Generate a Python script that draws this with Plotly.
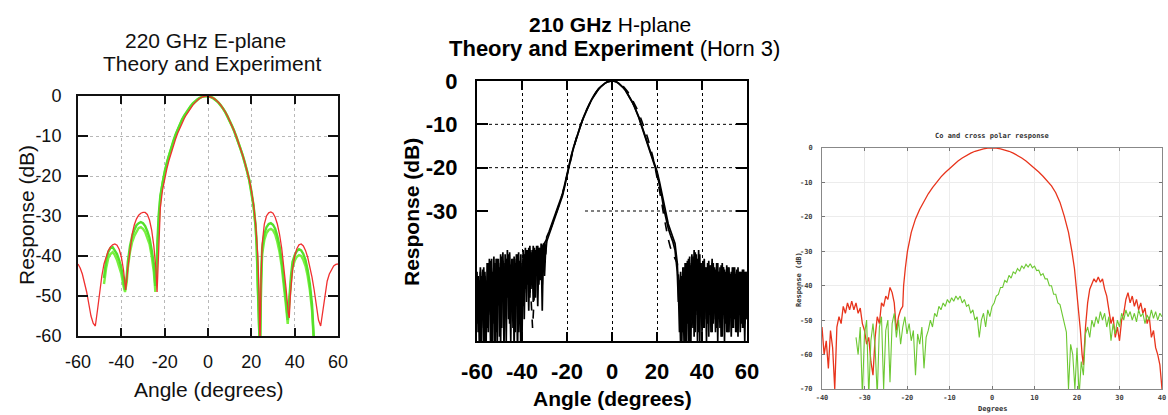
import plotly.graph_objects as go

# ---------------- Panel 1: 220 GHz E-plane (theory red, experiment green) ----------------
e_theory_angle = [
    -60, -59, -58, -57, -56, -55, -54, -53, -52, -51,
    -50, -49, -48, -47, -46, -45, -44, -43, -42, -41,
    -40, -39, -38, -37, -36, -35, -34, -33, -32, -31,
    -30, -29, -28, -27, -26, -25, -24, -23.5, -23, -22.5,
    -22, -21, -20, -19, -18, -17, -16, -15, -14, -13,
    -12, -11, -10, -9, -8, -7, -6, -5, -4, -3,
    -2, -1, 0, 1, 2, 3, 4, 5, 6, 7,
    8, 9, 10, 11, 12, 13, 14, 15, 16, 17,
    18, 19, 20, 21, 22, 23, 23.5, 24, 24.5, 25,
    26, 27, 28, 29, 30, 31, 32, 33, 34, 35,
    36, 37, 37.5, 38, 39, 40, 41, 42, 43, 44,
    45, 46, 47, 48, 49, 50, 51, 52, 53, 54,
    55, 56, 57, 58, 59, 60]
e_theory_db = [
    -42, -43, -44.5, -46.5, -49, -52, -55, -56.8, -57.5, -53.5,
    -48.5, -45, -42, -40, -38.6, -37.7, -37.2, -37, -37.3, -38.3,
    -40.2, -43.5, -48.5, -43, -38, -34.5, -32.2, -30.7, -29.8, -29.3,
    -29.1, -29.1, -29.6, -31, -33.5, -37.5, -43.5, -49, -42, -33,
    -28, -23.5, -20.6, -18.2, -16.1, -14.2, -12.4, -10.8, -9.3, -8.0,
    -6.8, -5.7, -4.7, -3.8, -3.0, -2.3, -1.65, -1.1, -0.65, -0.32,
    -0.1, 0, -0.03, -0.15, -0.38, -0.72, -1.15, -1.7, -2.35, -3.1,
    -4.0, -5.0, -6.1, -7.3, -8.6, -10, -11.5, -13.1, -14.8, -16.6,
    -18.6, -20.8, -23.5, -27, -32, -40, -48, -63, -45, -37,
    -32, -30, -29.2, -29, -29.3, -30.3, -32, -34.5, -38, -42.5,
    -48, -54, -55.5, -50, -43.5, -40, -38.2, -37.2, -37, -37.5,
    -38.6, -40.3, -42.5, -45.3, -48.5, -52.5, -56, -57.5, -53.5, -49,
    -46.3, -44.5, -43.3, -42.5, -42.1, -42]

e_exp_angle = [
    -48, -47, -46, -45, -44, -43, -42, -41, -40, -39,
    -38.3, -37.5, -37, -36, -35, -34, -33, -32, -31, -30,
    -29, -28, -27, -26, -25, -24.3, -23.8, -23.3, -22.8, -22,
    -21, -20, -19, -18, -17, -16, -15, -14, -13, -12,
    -11, -10, -9, -8, -7, -6, -5, -4, -3, -2,
    -1, 0, 1, 2, 3, 4, 5, 6, 7, 8,
    9, 10, 11, 12, 13, 14, 15, 16, 17, 18,
    19, 20, 21, 22, 22.5, 23, 23.5, 24, 24.5, 25,
    26, 27, 28, 29, 30, 31, 32, 33, 34, 35,
    36, 36.8, 37.5, 38.3, 39, 40, 41, 42, 43, 44,
    45, 46, 47, 48, 48.8, 49.5]
e_exp_scan1_db = [
    -45.5, -41, -39, -38, -37.8, -38.5, -39.5, -41, -43, -46,
    -48.5, -45, -41.5, -37.5, -35, -33.5, -32.3, -31.8, -31.5, -31.8,
    -32.5, -33.8, -35.5, -38.5, -42, -47.5, -44, -36, -30, -25,
    -21.5, -18.9, -16.7, -14.7, -12.9, -11.2, -9.7, -8.3, -7.0, -5.9,
    -4.9, -4.0, -3.2, -2.5, -1.85, -1.3, -0.85, -0.5, -0.22, -0.06,
    0, -0.05, -0.2, -0.45, -0.8, -1.25, -1.8, -2.45, -3.2, -4.1,
    -5.1, -6.2, -7.4, -8.7, -10.1, -11.6, -13.2, -14.9, -16.7, -18.7,
    -21, -23.8, -27.5, -33, -38, -48, -65, -65, -46, -38,
    -34.5, -32.8, -32, -31.8, -32.2, -33.2, -35, -37.5, -41, -45.5,
    -51, -56, -50, -45, -41.5, -39.8, -38.8, -38.3, -38.6, -39.5,
    -41, -43.5, -47, -52, -60, -65]
e_exp_scan2_db = [
    -47, -43, -40.5, -39.5, -39, -39.8, -41, -42.5, -44.5, -47.5,
    -49, -46.5, -43, -39, -36.5, -35, -33.8, -33, -32.8, -33.2,
    -34, -35.3, -37, -40, -44, -49, -45.5, -37, -31, -25.5,
    -21.8, -19.1, -16.9, -14.9, -13.1, -11.4, -9.9, -8.5, -7.2, -6.1,
    -5.1, -4.2, -3.4, -2.7, -2.0, -1.45, -0.95, -0.6, -0.3, -0.1,
    -0.02, -0.02, -0.12, -0.35, -0.7, -1.15, -1.7, -2.35, -3.1, -4.0,
    -5.0, -6.1, -7.3, -8.6, -10.0, -11.5, -13.1, -14.8, -16.6, -18.6,
    -20.9, -23.6, -27.2, -32.5, -37.5, -47, -65, -65, -47.5, -39.5,
    -36, -34.3, -33.5, -33.2, -33.6, -34.6, -36.5, -39, -42.5, -47,
    -52.5, -57, -51.5, -46.5, -43, -41.2, -40.2, -39.8, -40, -41,
    -42.5, -45, -48.5, -53.5, -61, -66]
e_ticks_x = [-60, -40, -20, 0, 20, 40, 60]
e_ticks_y = [0, -10, -20, -30, -40, -50, -60]

# ---------------- Panel 2: 210 GHz H-plane (Horn 3), black ----------------
h_left_angle = [
    -60, -59.5, -59, -58.5, -58, -57.5, -57, -56.5, -56, -55.5,
    -55, -54.5, -54, -53.5, -53, -52.5, -52, -51.5, -51, -50.5,
    -50, -49.5, -49, -48.5, -48, -47.5, -47, -46.5, -46, -45.5,
    -45, -44.5, -44, -43.5, -43, -42.5, -42, -41.5, -41, -40.5,
    -40, -39.5, -39, -38.5, -38, -37.5, -37, -36.5, -36, -35.5,
    -35, -34.5, -34, -33.5, -33, -32.5, -32, -31.5, -31, -30.5,
    -30, -29.5]
h_scan1_left_db = [
    -44, -58, -46, -62, -45, -55, -43, -60, -47, -57,
    -42, -53, -41.5, -63, -44, -52, -42, -58, -41, -50,
    -43, -61, -40.5, -49, -42, -53, -41, -48, -40, -56,
    -42.5, -50, -41, -62, -42, -51, -40, -58, -41.5, -64,
    -43, -52, -40, -48, -39, -47, -38.5, -50, -39.5, -46,
    -38, -49, -39, -45, -38, -47, -38.5, -44, -38, -43,
    -37.5, -40]
h_scan2_left_db = [
    -56, -45, -60, -44, -61, -43.5, -57, -45, -63, -42,
    -54, -43, -60, -41, -56, -42.5, -64, -41, -52, -42,
    -59, -40, -50, -41.5, -62, -40, -48, -41, -55, -39.5,
    -47, -42, -57, -40.5, -49, -41, -63, -42, -50, -40,
    -60, -39, -49, -38.5, -51, -39, -46, -38, -48, -39,
    -45, -38.5, -50, -38, -44, -39, -46, -37.5, -53, -38,
    -42, -38]
h_scan3_left_db = [
    -50, -47, -55, -43, -52, -48, -61, -44, -51, -46,
    -58, -41, -49, -45, -60, -40.5, -53, -44, -62, -41,
    -48, -44, -57, -39.5, -52, -43, -60, -39, -50, -44,
    -60, -41, -48, -43, -58, -40, -52, -39.5, -56, -42,
    -49, -41, -55, -40, -45, -41, -53, -39, -44, -40.5,
    -51, -39.5, -43, -40, -52, -38.5, -42, -39, -47, -37.5,
    -45, -39]
h_main_angle = [
    -29, -28, -27, -26, -25, -24, -23, -22, -21, -20,
    -19, -18, -17, -16, -15, -14, -13, -12, -11, -10,
    -9, -8, -7, -6, -5, -4, -3, -2, -1, 0,
    1, 2, 3, 4, 5, 6, 7, 8, 9, 10,
    11, 12, 13, 14, 15, 16, 17, 18, 19, 20,
    21, 22, 23, 24, 25, 26, 27, 28, 29, 29.5]
h_scan1_main_db = [
    -37, -35.5, -34, -32.5, -31, -29.8, -28.3, -26.5, -24.3, -21.8,
    -19.3, -17.2, -15.3, -13.5, -11.8, -10.3, -8.9, -7.6, -6.4, -5.3,
    -4.3, -3.4, -2.6, -1.9, -1.35, -0.85, -0.5, -0.2, -0.05, 0,
    -0.05, -0.2, -0.55, -0.95, -1.5, -2.1, -2.9, -3.8, -4.8, -5.9,
    -7.1, -8.4, -10, -11.5, -13.1, -14.7, -16.3, -17.7, -19.2, -20.8,
    -23, -25.5, -28.6, -31.2, -33, -34.5, -35.8, -37.5, -42, -48]
h_scan2_main_db = [
    -36, -34.8, -33.3, -31.8, -30.5, -29.2, -27.8, -26, -23.8, -21.3,
    -19, -17, -15.1, -13.4, -11.7, -10.2, -8.8, -7.5, -6.3, -5.2,
    -4.2, -3.3, -2.5, -1.8, -1.3, -0.8, -0.45, -0.18, -0.04, 0,
    -0.06, -0.22, -0.58, -1.0, -1.55, -2.2, -3.0, -3.9, -4.9, -6.0,
    -7.2, -8.6, -10.2, -11.7, -13.3, -14.9, -16.5, -18, -19.6, -21.3,
    -23.6, -26.3, -29.4, -32, -34, -35.6, -37, -39, -44, -51]
h_right_angle = [
    30, 30.5, 31, 31.5, 32, 32.5, 33, 33.5, 34, 34.5,
    35, 35.5, 36, 36.5, 37, 37.5, 38, 38.5, 39, 39.5,
    40, 40.5, 41, 41.5, 42, 42.5, 43, 43.5, 44, 44.5,
    45, 45.5, 46, 46.5, 47, 47.5, 48, 48.5, 49, 49.5,
    50, 50.5, 51, 51.5, 52, 52.5, 53, 53.5, 54, 54.5,
    55, 55.5, 56, 56.5, 57, 57.5, 58, 58.5, 59, 59.5,
    60]
h_scan1_right_db = [
    -58, -44, -62, -43, -57, -42, -60, -41.5, -55, -42,
    -63, -40, -52, -39, -58, -40, -54, -41, -61, -42,
    -53, -41.5, -57, -43, -55, -42, -59, -42.5, -52, -41,
    -56, -43, -58, -42, -53, -44, -57, -42.5, -55, -43,
    -60, -44, -54, -43, -58, -44.5, -53, -43, -57, -44,
    -55, -43.5, -59, -44, -54, -45, -57, -43.5, -56, -44,
    -55]
h_scan2_right_db = [
    -50, -61, -45, -58, -43, -63, -42, -56, -41, -60,
    -42.5, -55, -40.5, -59, -39.5, -53, -41, -58, -40, -54,
    -42, -57, -41, -52, -43, -56, -41.5, -54, -42.5, -58,
    -42, -53, -43.5, -57, -42, -55, -43, -59, -42, -54,
    -43.5, -56, -42.5, -58, -43, -54, -44, -57, -43, -55,
    -44.5, -58, -43, -54, -44, -56, -43.5, -57, -44, -55,
    -44]
h_scan3_right_db = [
    -46, -52, -58, -46, -60, -44, -55, -47, -62, -40.5,
    -50, -44, -57, -41, -49, -43, -60, -39, -52, -45,
    -58, -43, -50, -45, -60, -44, -51, -46, -58, -42,
    -50, -45, -55, -43, -60, -44, -51, -46, -59, -43,
    -52, -47, -58, -44, -50, -46, -59, -45, -52, -43,
    -58, -46, -52, -45, -58, -44, -51, -46, -60, -45,
    -52]
h_theory_angle = [
    -40, -39, -38, -37, -36, -35.3, -34.5, -34, -33, -32,
    -31, -30, -29, -28, -27, -26, -25, -24, -23, -22,
    -21, -20, -19, -18, -17, -16, -15, -14, -13, -12,
    -11, -10, -9, -8, -7, -6, -5, -4, -3, -2,
    -1, 0, 1, 2, 3, 4, 5, 6, 7, 8,
    9, 10, 11, 12, 13, 14, 15, 16, 17, 18,
    19, 20, 21, 22, 23, 24, 25, 26, 27, 28,
    29, 30, 31, 32, 33, 34, 35, 36, 37, 38,
    39, 40]
h_theory_db = [
    -47, -45.5, -45, -46.5, -50, -57, -49, -45, -41.5, -39.5,
    -38.3, -37.5, -36.5, -35.2, -33.8, -32.3, -30.8, -29.3, -27.8, -26,
    -23.9, -21.5, -19.1, -17.1, -15.2, -13.4, -11.7, -10.2, -8.8, -7.5,
    -6.3, -5.2, -4.2, -3.3, -2.5, -1.8, -1.25, -0.8, -0.45, -0.17,
    -0.03, 0, -0.04, -0.17, -0.45, -0.8, -1.25, -1.8, -2.5, -3.3,
    -4.2, -5.2, -6.3, -7.5, -8.8, -10.2, -11.7, -13.4, -15.2, -17.2,
    -19.5, -22, -24.8, -27.8, -31, -34, -36.5, -38.5, -40, -41,
    -42, -47, -50, -52, -54, -56, -57, -55, -52, -50,
    -49, -49]
h_ticks_x = [-60, -40, -20, 0, 20, 40, 60]
h_ticks_y = [0, -10, -20, -30]
h_grid_y = [-10, -20, -30]
h_grid_y_from = [-60, -60, -12]

# ---------------- Panel 3: Co and cross polar response ----------------
co_left_angle = [
    -40, -39.5, -39, -38.5, -38, -37.5, -37, -36.5, -36, -35.5,
    -35, -34.5, -34, -33.5, -33, -32.5, -32, -31.5, -31, -30.5,
    -30, -29.5, -29, -28.5, -28, -27.5, -27, -26.5, -26, -25.5,
    -25, -24.5, -24, -23.5, -23, -22.5, -22, -21.5]
co_left_db = [
    -52, -60, -56, -64, -53, -58, -70, -52, -49, -51,
    -46, -48, -45, -47, -44.5, -47, -45, -48, -46.5, -51,
    -53, -57, -55, -62, -66, -55, -49, -51, -45, -46,
    -43, -44, -40.5, -42, -45, -53, -49, -47]
co_main_angle = [
    -21, -20.8, -20.4, -19.9, -19, -18, -17, -16, -15, -14,
    -13, -12, -11, -10, -9, -8, -7, -6, -5, -4,
    -3, -2, -1, 0, 1, 2, 3, 4, 5, 6,
    7, 8, 9, 10, 11, 12, 13, 14, 15, 16,
    17, 18, 18.8, 19.4, 19.8, 20.3, 20.8, 21.2, 21.5]
co_main_db = [
    -46, -40, -35, -30, -24.5, -20.6, -17.8, -15.4, -13.3, -11.5,
    -9.9, -8.4, -7.1, -5.9, -4.8, -3.8, -2.9, -2.1, -1.5, -0.95,
    -0.55, -0.25, -0.06, 0, -0.06, -0.25, -0.55, -0.95, -1.5, -2.1,
    -2.9, -3.8, -4.8, -5.9, -7.0, -8.2, -9.5, -11.0, -13.0, -15.8,
    -19.8, -24.5, -30, -35, -40, -46, -53, -60, -63]
co_right_angle = [
    22, 22.5, 23, 23.5, 24, 24.5, 25, 25.5, 26, 26.5,
    27, 27.5, 28, 28.5, 29, 29.5, 30, 30.5, 31, 31.5,
    32, 32.5, 33, 33.5, 34, 34.5, 35, 35.5, 36, 36.5,
    37, 37.5, 38, 38.5, 39, 39.5, 40]
co_right_db = [
    -52, -45, -41, -39.5, -38, -39, -37.5, -39, -38, -41,
    -43, -47, -51, -49, -55, -52, -56, -50, -48, -44,
    -42, -45, -43, -46, -44, -47, -45, -48, -46.5, -51,
    -49, -55, -53, -58, -60, -63, -70]
cross_angle = [
    -32, -31.5, -31, -30.5, -30, -29.5, -29, -28.5, -28, -27.5,
    -27, -26.5, -26, -25.5, -25, -24.5, -24, -23.5, -23, -22.5,
    -22, -21.5, -21, -20.5, -20, -19.5, -19, -18.5, -18, -17.5,
    -17, -16.5, -16, -15.5, -15, -14.5, -14, -13.5, -13, -12.5,
    -12, -11.5, -11, -10.5, -10, -9.5, -9, -8.5, -8, -7.5,
    -7, -6.5, -6, -5.5, -5, -4.5, -4, -3.5, -3, -2.5,
    -2, -1.5, -1, -0.5, 0, 0.5, 1, 1.5, 2, 2.5,
    3, 3.5, 4, 4.5, 5, 5.5, 6, 6.5, 7, 7.5,
    8, 8.5, 9, 9.5, 10, 10.5, 11, 11.5, 12, 12.5,
    13, 13.5, 14, 14.5, 15, 15.5, 16, 16.5, 17, 17.5,
    18, 18.5, 19, 19.5, 20, 20.5, 21, 21.5, 22, 22.5,
    23, 23.5, 24, 24.5, 25, 25.5, 26, 26.5, 27, 27.5,
    28, 28.5, 29, 29.5, 30, 30.5, 31, 31.5, 32, 32.5,
    33, 33.5, 34, 34.5, 35, 35.5, 36, 36.5, 37, 37.5,
    38, 38.5, 39, 39.5, 40]
cross_db = [
    -55, -60, -52, -72, -54, -50, -72, -56, -51, -58,
    -72, -52, -49, -70, -53, -50, -68, -51, -48, -55,
    -50, -57, -52, -49, -54, -51, -56, -53, -66, -54,
    -57, -52, -64, -55, -53, -50, -52, -48, -49, -46,
    -47, -45, -46, -44, -45, -43.5, -44.5, -43, -44, -43,
    -45, -44, -46, -45.5, -48, -47, -50, -49, -55, -50,
    -48, -52, -47, -49, -46, -45, -43, -42.5, -40.5, -40.5,
    -38.5, -39, -37, -37.8, -36, -36.5, -35, -35.8, -34.2, -35,
    -33.8, -34.6, -33.6, -34.8, -34.3, -35.6, -35.5, -37, -36.5, -38,
    -38, -40, -40, -42.5, -42.5, -45, -45.5, -48.5, -50.5, -53.5,
    -70, -57, -60, -70, -58, -72, -62, -66, -54, -52,
    -55, -50, -52, -49, -51, -47.5, -50, -48, -52, -49,
    -56, -51, -54, -50, -52, -48, -50, -47, -49, -47.5,
    -50, -48, -50.5, -47, -49, -48, -51, -48.5, -50, -47,
    -49.5, -47.5, -50, -48, -49]
c_ticks_x = [-40, -30, -20, -10, 0, 10, 20, 30, 40]
c_ticks_y = [0, -10, -20, -30, -40, -50, -60, -70]


def labels(vals):
    # ASCII hyphen-minus, as in the original figures
    return [str(v) for v in vals]


# ---------------- Layout helpers (pixel -> paper) ----------------
W, H = 1168, 415
def fx(p):
    return p / W
def fy(p):
    return 1 - p / H

fig = go.Figure()

# Panel 1 traces
fig.add_trace(go.Scatter(x=e_exp_angle, y=e_exp_scan2_db, mode="lines",
                         line=dict(color="#7af040", width=2.4), xaxis="x", yaxis="y"))
fig.add_trace(go.Scatter(x=e_exp_angle, y=e_exp_scan1_db, mode="lines",
                         line=dict(color="#55e02a", width=2.4), xaxis="x", yaxis="y"))
fig.add_trace(go.Scatter(x=e_theory_angle, y=e_theory_db, mode="lines",
                         line=dict(color="#f03030", width=1.3), xaxis="x", yaxis="y"))

# Panel 2 traces
blk = dict(color="#000000", width=1.7)
fig.add_trace(go.Scatter(x=h_left_angle + h_main_angle + h_right_angle,
                         y=h_scan1_left_db + h_scan1_main_db + h_scan1_right_db,
                         mode="lines", line=blk, xaxis="x2", yaxis="y2"))
fig.add_trace(go.Scatter(x=h_left_angle + h_main_angle + h_right_angle,
                         y=h_scan2_left_db + h_scan2_main_db + h_scan2_right_db,
                         mode="lines", line=blk, xaxis="x2", yaxis="y2"))
fig.add_trace(go.Scatter(x=h_left_angle, y=h_scan3_left_db,
                         mode="lines", line=blk, xaxis="x2", yaxis="y2"))
fig.add_trace(go.Scatter(x=h_right_angle, y=h_scan3_right_db,
                         mode="lines", line=blk, xaxis="x2", yaxis="y2"))
fig.add_trace(go.Scatter(x=h_theory_angle, y=h_theory_db, mode="lines",
                         line=dict(color="#000000", width=1.6, dash="dash"),
                         xaxis="x2", yaxis="y2"))

# Panel 3 traces
fig.add_trace(go.Scatter(x=co_left_angle + co_main_angle + co_right_angle,
                         y=co_left_db + co_main_db + co_right_db, mode="lines",
                         line=dict(color="#e8341c", width=1.3), xaxis="x3", yaxis="y3"))
fig.add_trace(go.Scatter(x=cross_angle, y=cross_db, mode="lines",
                         line=dict(color="#6cc832", width=1.1), xaxis="x3", yaxis="y3"))

# Panel 2 horizontal grid (the -30 line is partial in the original)
shapes = []
for gy, gx0 in zip(h_grid_y, h_grid_y_from):
    shapes.append(dict(type="line", xref="x2", yref="y2", x0=gx0, x1=60, y0=gy, y1=gy,
                       line=dict(color="#000000", width=1, dash="dot"), layer="below"))

font1 = "Liberation Sans, Arial, sans-serif"
mono = "DejaVu Sans Mono, monospace"

fig.update_layout(
    template="none",
    width=W, height=H, margin=dict(l=0, r=0, t=0, b=0, pad=0, autoexpand=False),
    paper_bgcolor="white", plot_bgcolor="white", showlegend=False,
    shapes=shapes,
    xaxis=dict(domain=[fx(78), fx(338)], anchor="y", range=[-60, 60], automargin=False,
               tickmode="array", tickvals=e_ticks_x, ticktext=labels(e_ticks_x),
               ticks="inside", ticklen=8, tickwidth=2,
               tickcolor="#111", showline=True, linecolor="#111", linewidth=2, mirror="ticks",
               showgrid=True, gridcolor="#b8b8b8", griddash="dot", gridwidth=1, zeroline=False,
               tickfont=dict(family=font1, size=18, color="#111"), ticklabelstandoff=8),
    yaxis=dict(domain=[fy(336), fy(96)], anchor="x", range=[-60, 0], automargin=False,
               tickmode="array", tickvals=e_ticks_y, ticktext=labels(e_ticks_y),
               ticks="inside", ticklen=10, tickwidth=2,
               tickcolor="#111", showline=True, linecolor="#111", linewidth=2, mirror="ticks",
               showgrid=True, gridcolor="#b8b8b8", griddash="dot", gridwidth=1, zeroline=False,
               tickfont=dict(family=font1, size=18, color="#111"), ticklabelstandoff=11),
    xaxis2=dict(domain=[fx(477), fx(747)], anchor="y2", range=[-60, 60], automargin=False,
                tickmode="array", tickvals=h_ticks_x, ticktext=labels(h_ticks_x),
                ticks="inside", ticklen=9, tickwidth=2,
                tickcolor="#000", showline=True, linecolor="#000", linewidth=2, mirror="ticks",
                showgrid=True, gridcolor="#000", griddash="dot", gridwidth=1, zeroline=False,
                tickfont=dict(family=font1, size=22, color="#000", weight="bold"),
                ticklabelstandoff=10),
    yaxis2=dict(domain=[fy(341), fy(81)], anchor="x2", range=[-60, 0], automargin=False,
                tickmode="array", tickvals=h_ticks_y, ticktext=labels(h_ticks_y),
                ticks="inside", ticklen=11, tickwidth=2,
                tickcolor="#000", showline=True, linecolor="#000", linewidth=2, mirror="ticks",
                showgrid=False, zeroline=False,
                tickfont=dict(family=font1, size=22, color="#000", weight="bold"),
                ticklabelstandoff=13),
    xaxis3=dict(domain=[fx(822), fx(1162)], anchor="y3", range=[-40, 40], automargin=False,
                tickmode="array", tickvals=c_ticks_x, ticktext=labels(c_ticks_x),
                ticks="inside", ticklen=3, tickwidth=1,
                tickcolor="#777", showline=True, linecolor="#888", linewidth=1, mirror="ticks",
                showgrid=True, gridcolor="#ececec", gridwidth=1, zeroline=False,
                tickfont=dict(family=mono, size=7, color="#444", weight="bold"),
                ticklabelstandoff=2),
    yaxis3=dict(domain=[fy(389), fy(148)], anchor="x3", range=[-70, 0], automargin=False,
                tickmode="array", tickvals=c_ticks_y, ticktext=labels(c_ticks_y),
                ticks="inside", ticklen=3, tickwidth=1,
                tickcolor="#777", showline=True, linecolor="#888", linewidth=1, mirror="ticks",
                showgrid=True, gridcolor="#ececec", gridwidth=1, zeroline=False,
                tickfont=dict(family=mono, size=7, color="#444", weight="bold"),
                ticklabelstandoff=7),
)

def ann(text, x, y, size, family, angle=0, color="#111", weight="normal"):
    return dict(text=text, x=fx(x), y=fy(y), xref="paper", yref="paper",
                xanchor="center", yanchor="middle", showarrow=False, textangle=angle,
                font=dict(family=family, size=size, color=color, weight=weight))

fig.update_layout(annotations=[
    ann("220 GHz E-plane", 205, 41, 21, font1),
    ann("Theory and Experiment", 212, 63, 21, font1),
    ann("Angle (degrees)", 208, 389, 21, font1),
    ann("Response (dB)", 26, 215, 21, font1, angle=-90),
    ann("<b>210 GHz</b> H-plane", 610, 25, 21, font1, color="#000"),
    ann("<b>Theory and Experiment</b> (Horn 3)", 614, 49, 22, font1, color="#000"),
    ann("<b>Angle (degrees)</b>", 612, 398, 21, font1, color="#000"),
    ann("<b>Response (dB)</b>", 411, 212, 21, font1, angle=-90, color="#000"),
    ann("Co and cross polar response", 992, 136, 7, mono, color="#333", weight="bold"),
    ann("Degrees", 993, 409, 7, mono, color="#333", weight="bold"),
    ann("Response (dB)", 799, 280, 7, mono, angle=-90, color="#333", weight="bold"),
])

fig.write_html("out.html")
